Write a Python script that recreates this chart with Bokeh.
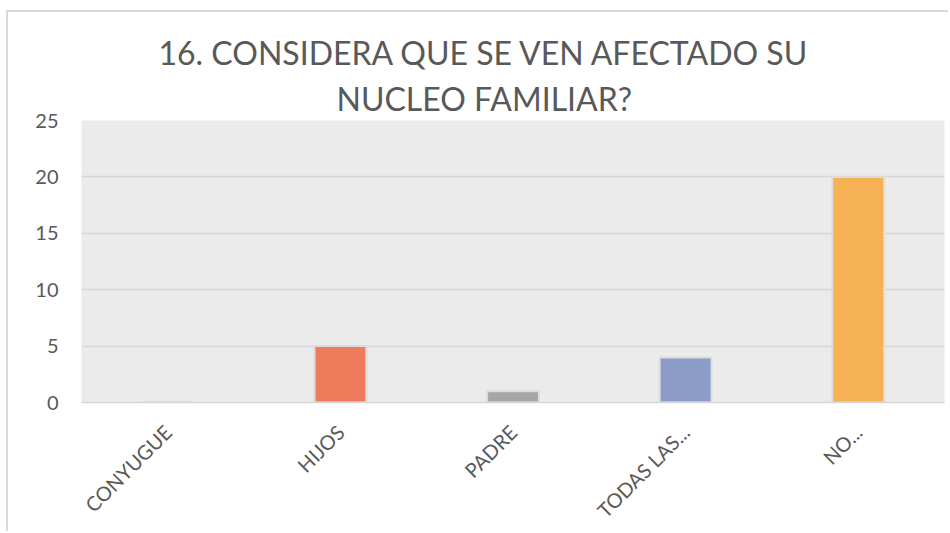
import math
from bokeh.plotting import figure
from bokeh.models import Title, FactorRange, ColumnDataSource
from bokeh.embed import file_html
from bokeh.resources import INLINE

categories = ["CONYUGUE", "HIJOS", "PADRE", "TODAS LAS...", "NO..."]
values = [0, 5, 1, 4, 20]
colors = ["#5B9BD5", "#EE7B5B", "#A5A5A5", "#8A9CC7", "#F5B153"]
y_ticks = [0, 5, 10, 15, 20, 25]
title_lines = ["16.  CONSIDERA QUE SE VEN AFECTADO SU", "NUCLEO FAMILIAR?"]
title_offsets = [77, 255]

FONT = "Lato"
TXT = "#595959"

src = ColumnDataSource(dict(cat=categories, val=values, color=colors))

p = figure(x_range=FactorRange(*categories), y_range=(0, 25),
           width=942, height=521, output_backend="svg", toolbar_location=None,
           min_border_left=73, min_border_right=6, min_border_bottom=129, min_border_top=108)

p.vbar(x="cat", top="val", width=0.3, fill_color="color", line_color="#DCDCDC", line_width=2, source=src)

p.background_fill_color = "#EBEBEB"
p.border_fill_color = "white"
p.outline_line_color = None
p.styles = {"margin-left": "6px", "margin-top": "10px",
            "border-left": "2px solid #D9D9D9", "border-top": "2px solid #D9D9D9"}

p.xgrid.grid_line_color = None
p.ygrid.grid_line_color = "#D6D6D6"
p.ygrid.grid_line_width = 1.5
p.yaxis.ticker = y_ticks
p.x_range.range_padding = 0
p.x_range.group_padding = 0

p.yaxis.axis_line_color = None
p.yaxis.major_tick_line_color = None
p.yaxis.minor_tick_line_color = None
p.yaxis.major_label_text_font = FONT
p.yaxis.major_label_text_font_size = "20px"
p.yaxis.major_label_text_color = TXT
p.yaxis.major_label_standoff = 17

p.xaxis.axis_line_color = "#D6D6D6"
p.xaxis.axis_line_width = 1.5
p.xaxis.major_tick_line_color = None
p.xaxis.minor_tick_line_color = None
p.xaxis.major_label_orientation = math.pi / 4
p.xaxis.major_label_text_font = FONT
p.xaxis.major_label_text_font_size = "20px"
p.xaxis.major_label_text_color = TXT
p.xaxis.major_label_standoff = 20

for line, off in reversed(list(zip(title_lines, title_offsets))):
    p.add_layout(Title(text=line, align="left", text_font=FONT, text_font_size="32px",
                       text_font_style="normal", text_color=TXT, offset=off, standoff=5), "above")

open("out.html", "w").write(file_html(p, INLINE))
